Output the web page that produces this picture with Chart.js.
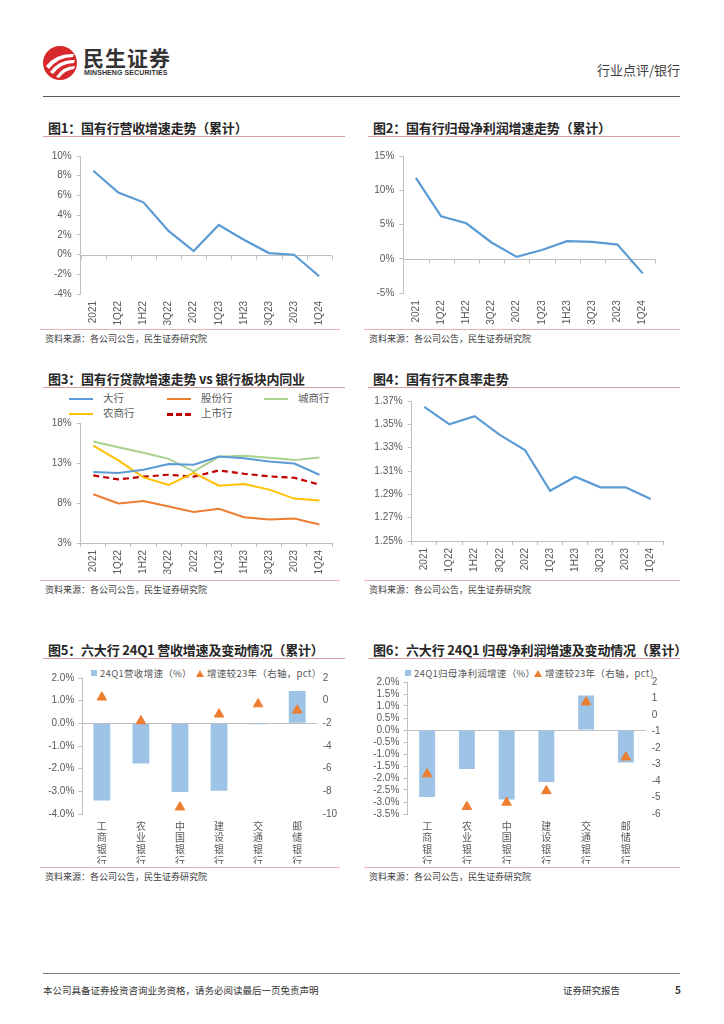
<!DOCTYPE html>
<html>
<head>
<meta charset="utf-8">
<script src="https://cdn.jsdelivr.net/npm/chart.js@4.4.1/dist/chart.umd.min.js"></script>
<style>
body{margin:0;width:724px;height:1024px;position:relative;background:#fff;overflow:hidden;font-family:'Noto Sans CJK SC','Liberation Sans',sans-serif;}
canvas{position:absolute;}
.title{position:absolute;height:16px;line-height:16px;font-size:13px;font-weight:bold;color:#262626;border-bottom:1.5px solid #d9a0a0;padding-left:5px;box-sizing:content-box;white-space:nowrap;letter-spacing:-0.2px;}
.src{position:absolute;border-top:1px solid #e8b0b0;font-size:9px;color:#404040;padding-left:5px;line-height:15px;padding-top:1px;}
.lg{position:absolute;font-size:10.5px;color:#595959;line-height:12px;white-space:nowrap;}
.lg i{display:inline-block;width:24px;vertical-align:middle;margin-right:10px;}
.lg2{position:absolute;font-size:9.5px;color:#595959;line-height:12px;white-space:nowrap;letter-spacing:0.3px;}
.sq{display:inline-block;width:6px;height:6px;background:#9dc3e6;margin-right:3px;vertical-align:1px;}
.tri{display:inline-block;width:0;height:0;border-left:4px solid transparent;border-right:4px solid transparent;border-bottom:7px solid #ed7d31;margin-right:3px;vertical-align:0px;}
</style>
</head>
<body>
<!-- header -->
<svg style="position:absolute;left:42px;top:45px" width="36" height="36" viewBox="0 0 36 36">
  <circle cx="18" cy="18" r="17" fill="#d7282b"/>
  <path d="M4 21 Q14 8 32 9 L31 12 Q16 12 7 24 Z" fill="#fff"/>
  <path d="M8 27 Q17 14 33 15 L32 18 Q19 18 11 29 Z" fill="#fff"/>
  <path d="M14 32 Q21 21 33 21 L32 24 Q23 25 17 33 Z" fill="#fff"/>
</svg>
<div style="position:absolute;left:83px;top:44px;font-size:21px;font-weight:bold;color:#333;letter-spacing:1px;line-height:26px;">民生证券</div>
<div style="position:absolute;left:84px;top:68px;font-size:7px;font-weight:bold;color:#333;font-family:'Liberation Sans',sans-serif;letter-spacing:0.1px;line-height:9px;">MINSHENG SECURITIES</div>
<div style="position:absolute;right:44px;top:61px;font-size:13px;color:#404040;line-height:18px;">行业点评/银行</div>
<div style="position:absolute;left:43px;top:96px;width:637px;height:0;border-top:1.5px solid #595959;"></div>

<!-- titles -->
<div class="title" style="left:43px;top:120px;width:297px;">图1：国有行营收增速走势（累计）</div>
<div class="title" style="left:368px;top:120px;width:307px;">图2：国有行归母净利润增速走势（累计）</div>
<div class="title" style="left:43px;top:371px;width:297px;">图3：国有行贷款增速走势 vs 银行板块内同业</div>
<div class="title" style="left:368px;top:371px;width:307px;">图4：国有行不良率走势</div>
<div class="title" style="left:43px;top:642px;width:297px;">图5：六大行 24Q1 营收增速及变动情况（累计）</div>
<div class="title" style="left:368px;top:642px;width:307px;">图6：六大行 24Q1 归母净利润增速及变动情况（累计）</div>

<!-- sources -->
<div class="src" style="left:40px;top:329px;width:295px;">资料来源：各公司公告，民生证券研究院</div>
<div class="src" style="left:364px;top:329px;width:311px;">资料来源：各公司公告，民生证券研究院</div>
<div class="src" style="left:40px;top:580px;width:295px;">资料来源：各公司公告，民生证券研究院</div>
<div class="src" style="left:364px;top:580px;width:311px;">资料来源：各公司公告，民生证券研究院</div>
<div class="src" style="left:40px;top:867px;width:295px;">资料来源：各公司公告，民生证券研究院</div>
<div class="src" style="left:364px;top:867px;width:311px;">资料来源：各公司公告，民生证券研究院</div>

<!-- legends -->
<div class="lg" style="left:69px;top:392px;"><i style="border-top:2.5px solid #5b9bd5"></i>大行</div>
<div class="lg" style="left:167px;top:392px;"><i style="border-top:2.5px solid #ed7d31"></i>股份行</div>
<div class="lg" style="left:264px;top:392px;"><i style="border-top:2.5px solid #a9d18e"></i>城商行</div>
<div class="lg" style="left:69px;top:407px;"><i style="border-top:2.5px solid #ffc000"></i>农商行</div>
<div class="lg" style="left:167px;top:407px;"><i style="border-top:3px dashed #c00000"></i>上市行</div>

<div class="lg2" style="left:91px;top:667px;"><span class="sq"></span>24Q1营收增速（%）</div>
<div class="lg2" style="left:196px;top:667px;"><span class="tri"></span>增速较23年（右轴，pct）</div>
<div class="lg2" style="left:405px;top:667px;"><span class="sq"></span>24Q1归母净利润增速（%）</div>
<div class="lg2" style="left:534px;top:667px;"><span class="tri"></span>增速较23年（右轴，pct）</div>

<canvas id="c1"></canvas>
<canvas id="c2"></canvas>
<canvas id="c3"></canvas>
<canvas id="c4"></canvas>
<canvas id="c5"></canvas>
<canvas id="c6"></canvas>

<!-- footer -->
<div style="position:absolute;left:43px;top:973px;width:637px;height:0;border-top:1.5px solid #7f7f7f;"></div>
<div style="position:absolute;left:43px;top:983px;font-size:9.5px;color:#333;line-height:14px;">本公司具备证券投资咨询业务资格，请务必阅读最后一页免责声明</div>
<div style="position:absolute;left:563px;top:983px;font-size:9.5px;color:#333;line-height:14px;">证券研究报告</div>
<div style="position:absolute;left:675px;top:983px;font-size:10px;font-weight:bold;color:#333;line-height:14px;">5</div>

<script>
// ---- data ----
const quarters = ['2021', '1Q22', '1H22', '3Q22', '2022', '1Q23', '1H23', '3Q23', '2023', '1Q24'];

const revGrowth = [8.5, 6.3, 5.3, 2.4, 0.35, 3.0, 1.5, 0.15, -0.02, -2.2];
const profitGrowth = [11.8, 6.2, 5.2, 2.4, 0.3, 1.3, 2.6, 2.5, 2.1, -2.1];

const loanBig = [11.87, 11.74, 12.16, 12.86, 12.78, 13.81, 13.6, 13.19, 12.94, 11.53];
const loanJointStock = [9.09, 7.93, 8.26, 7.56, 6.89, 7.27, 6.23, 5.94, 6.06, 5.32];
const loanCity = [15.68, 14.97, 14.27, 13.52, 11.95, 13.77, 13.9, 13.65, 13.36, 13.69];
const loanRural = [15.18, 13.32, 11.2, 10.25, 11.78, 10.17, 10.37, 9.67, 8.55, 8.3];
const loanListed = [11.45, 10.95, 11.29, 11.53, 11.29, 12.07, 11.66, 11.33, 11.16, 10.29];

const nplRatio = [1.365, 1.350, 1.357, 1.341, 1.328, 1.293, 1.305, 1.296, 1.296, 1.286];

const banks = ['工商银行', '农业银行', '中国银行', '建设银行', '交通银行', '邮储银行'];
const rev24Q1 = [-3.4, -1.77, -3.03, -2.97, -0.04, 1.43];
const revChange = [0.3, -1.8, -9.4, -1.2, -0.3, -0.85];
const np24Q1 = [-2.79, -1.62, -2.9, -2.17, 1.44, -1.35];
const npChange = [-3.58, -5.56, -5.3, -4.6, 0.78, -2.56];

const ticks1 = [-4, -2, 0, 2, 4, 6, 8, 10];
const ticks2 = [-5, 0, 5, 10, 15];
const ticks3 = [3, 8, 13, 18];
const ticks4 = [1.25, 1.27, 1.29, 1.31, 1.33, 1.35, 1.37];
const ticks5L = [-4, -3, -2, -1, 0, 1, 2];
const ticks5R = [-10, -8, -6, -4, -2, 0, 2];
const ticks6L = [-3.5, -3, -2.5, -2, -1.5, -1, -0.5, 0, 0.5, 1, 1.5, 2];
const ticks6R = [-6, -5, -4, -3, -2, -1, 0, 1, 2];

// ---- helpers ----
const FONT = "'Liberation Sans','Noto Sans CJK SC',sans-serif";
const AX = '#bfbfbf';
const TXT = '#595959';
const BLUE = '#5b9bd5';
Chart.defaults.font.family = FONT;
Chart.defaults.color = TXT;
Chart.defaults.animation = false;

function setTicks(vals) { return s => { s.ticks = vals.map(v => ({ value: v })); }; }
function fixW(w) { return s => { s.width = w; }; }
function fixH(h) { return s => { s.height = h; }; }

const zeroAxis = {
  id: 'zeroAxis',
  beforeDatasetsDraw(chart, args, opts) {
    const { ctx, chartArea: a, scales } = chart;
    const x = scales.x, y = scales.y;
    const py = Math.round(y.getPixelForValue(0)) + 0.5;
    ctx.save();
    ctx.strokeStyle = AX;
    ctx.lineWidth = 1;
    ctx.beginPath();
    ctx.moveTo(a.left, py);
    ctx.lineTo(a.right, py);
    if (opts.ticks) {
      for (let i = 0; i <= x.ticks.length; i++) {
        const px = Math.round(x.getPixelForValue(i - 0.5)) + 0.5;
        ctx.moveTo(px, py);
        ctx.lineTo(px, py + 4);
      }
    }
    ctx.stroke();
    ctx.restore();
  }
};

function mk(id, box, cfg) {
  const c = document.getElementById(id);
  c.width = box.w; c.height = box.h;
  c.style.left = box.x + 'px'; c.style.top = box.y + 'px';
  c.style.width = box.w + 'px'; c.style.height = box.h + 'px';
  cfg.options.responsive = false;
  cfg.options.devicePixelRatio = 1;
  cfg.options.plugins = Object.assign({ legend: { display: false }, tooltip: { enabled: false } }, cfg.options.plugins || {});
  return new Chart(c, cfg);
}

function yAxis(vals, fmt, w, pad) {
  return {
    min: vals[0], max: vals[vals.length - 1],
    afterBuildTicks: setTicks(vals),
    afterFit: fixW(w),
    ticks: { callback: fmt, font: { size: 10 }, color: TXT, padding: pad || 5, autoSkip: false },
    grid: { drawOnChartArea: false, tickLength: 4, color: AX },
    border: { color: AX }
  };
}

function xRotated(h, withAxis) {
  const o = {
    offset: true,
    afterFit: fixH(h),
    ticks: { minRotation: 90, maxRotation: 90, autoSkip: false, font: { size: 10 }, color: TXT, padding: withAxis ? 3 : 7 },
  };
  if (withAxis) {
    o.grid = { offset: true, drawOnChartArea: false, tickLength: 4, color: AX };
    o.border = { color: AX };
  } else {
    o.grid = { display: false, drawTicks: false };
    o.border = { display: false };
  }
  return o;
}

function lineSet(data, color, extra) {
  return Object.assign({ data, borderColor: color, backgroundColor: color, borderWidth: 2, pointRadius: 0, tension: 0, fill: false }, extra || {});
}

const pct0 = v => v + '%';

// ---- chart 1 ----
mk('c1', { x: 40, y: 145, w: 300, h: 185 }, {
  type: 'line',
  data: { labels: quarters, datasets: [lineSet(revGrowth, BLUE, { borderWidth: 2.2 })] },
  options: {
    layout: { padding: { top: 9.7, right: 8.3, left: 0, bottom: 0 } },
    scales: { x: xRotated(36, false), y: yAxis(ticks1, pct0, 40.7) },
    plugins: { zeroAxis: { ticks: true } }
  },
  plugins: [zeroAxis]
});

// ---- chart 2 ----
mk('c2', { x: 360, y: 145, w: 305, h: 185 }, {
  type: 'line',
  data: { labels: quarters, datasets: [lineSet(profitGrowth, BLUE, { borderWidth: 2.2 })] },
  options: {
    layout: { padding: { top: 9, right: 9.7, left: 0, bottom: 0 } },
    scales: { x: xRotated(36.7, false), y: yAxis(ticks2, pct0, 43.3) },
    plugins: { zeroAxis: { ticks: true } }
  },
  plugins: [zeroAxis]
});

// ---- chart 3 ----
mk('c3', { x: 40, y: 412, w: 300, h: 166 }, {
  type: 'line',
  data: {
    labels: quarters,
    datasets: [
      lineSet(loanBig, '#5b9bd5'),
      lineSet(loanJointStock, '#ed7d31'),
      lineSet(loanCity, '#a9d18e'),
      lineSet(loanRural, '#ffc000'),
      lineSet(loanListed, '#c00000', { borderDash: [6, 4], borderWidth: 2.2 })
    ]
  },
  options: {
    layout: { padding: { top: 10.3, right: 8, left: 0, bottom: 0 } },
    scales: { x: xRotated(35, true), y: yAxis(ticks3, pct0, 40.7) }
  }
});

// ---- chart 4 ----
mk('c4', { x: 360, y: 390, w: 312, h: 188 }, {
  type: 'line',
  data: { labels: quarters, datasets: [lineSet(nplRatio, BLUE, { borderWidth: 2.2 })] },
  options: {
    layout: { padding: { top: 9.7, right: 8.7, left: 0, bottom: 0 } },
    scales: { x: xRotated(37, true), y: yAxis(ticks4, v => v.toFixed(2) + '%', 51.7) }
  }
});

// ---- bar + triangle charts ----
function barCfg(cats, bars, tris, tL, tR, fmtL, wL, wR, barPct) {
  return {
    type: 'bar',
    data: {
      labels: cats,
      datasets: [
        { type: 'line', data: tris, yAxisID: 'y1', showLine: false, pointStyle: 'triangle', pointRadius: 5.5, pointBackgroundColor: '#ed7d31', pointBorderColor: '#ed7d31', order: 0 },
        { type: 'bar', data: bars, yAxisID: 'y', backgroundColor: '#9dc3e6', borderWidth: 0, categoryPercentage: 1, barPercentage: barPct, order: 1 }
      ]
    },
    options: {
      scales: {
        x: {
          afterFit: fixH(50),
          grid: { display: false, drawTicks: false },
          border: { display: false },
          ticks: { autoSkip: false, maxRotation: 0, minRotation: 0, padding: 7, font: { size: 10, lineHeight: 1.17 }, color: TXT,
                   callback: (v, i) => cats[i].split('') }
        },
        y: yAxis(tL, fmtL, wL, 4),
        y1: {
          position: 'right', min: tR[0], max: tR[tR.length - 1],
          afterBuildTicks: setTicks(tR), afterFit: fixW(wR),
          ticks: { font: { size: 10 }, color: TXT, padding: 6, autoSkip: false },
          grid: { display: false, drawTicks: false },
          border: { display: false }
        }
      },
      plugins: { zeroAxis: { ticks: false } }
    },
    plugins: [zeroAxis]
  };
}

const c5 = barCfg(banks, rev24Q1, revChange, ticks5L, ticks5R, v => v.toFixed(1) + '%', 42.3, 23.3, 0.43);
c5.options.layout = { padding: { top: 10, right: 0, left: 0, bottom: 0 } };
mk('c5', { x: 40, y: 666, w: 300, h: 198 }, c5);

const c6 = barCfg(banks, np24Q1, npChange, ticks6L, ticks6R, v => v.toFixed(1) + '%', 47.3, 24.3, 0.4);
c6.options.layout = { padding: { top: 10.7, right: 0, left: 0, bottom: 0 } };
mk('c6', { x: 360, y: 670, w: 310, h: 194 }, c6);
</script>
</body>
</html>
